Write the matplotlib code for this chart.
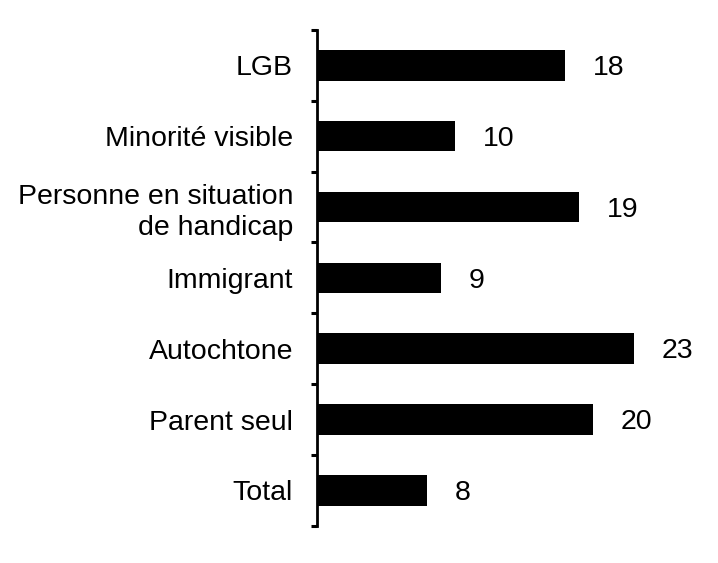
import numpy as np
import matplotlib
matplotlib.use("Agg")
import matplotlib.pyplot as plt
from matplotlib.ticker import FixedLocator

# ── data ─────────────────────────────────────────────────────────────────────
categories = ["LGB", "Minorité visible", "Personne en situation\nde handicap",
              "Immigrant", "Autochtone", "Parent seul", "Total"]
values = [18, 10, 19, 9, 23, 20, 8]

plt.rcParams["font.family"] = ["Liberation Sans", "DejaVu Sans"]

fig = plt.figure(figsize=(7.18, 5.63), dpi=100)
ax = fig.add_axes([0.441, 0.066, 0.54, 0.881])

y = np.arange(len(categories))[::-1]
ax.barh(y, values, height=0.43, color="black")

for yi, v in zip(y, values):
    ax.annotate(str(v), (v, yi), xytext=(20, -2), textcoords="offset points",
                va="center", ha="left", fontsize=20.5)

ax.set_xlim(0, 28.1)
ax.set_ylim(-0.5, len(categories) - 0.5)

ax.set_yticks(y)
ax.set_yticklabels(categories, fontsize=20.5, linespacing=1.25)
ax.yaxis.set_minor_locator(FixedLocator(np.arange(-0.5, len(categories), 1.0)))
ax.tick_params(axis="y", which="major", length=0, pad=17)
ax.tick_params(axis="y", which="minor", length=4, width=2.2, direction="out")
ax.set_xticks([])

for s in ["top", "right", "bottom"]:
    ax.spines[s].set_visible(False)
ax.spines["left"].set_linewidth(2)

fig.savefig("out.png", dpi=100)
